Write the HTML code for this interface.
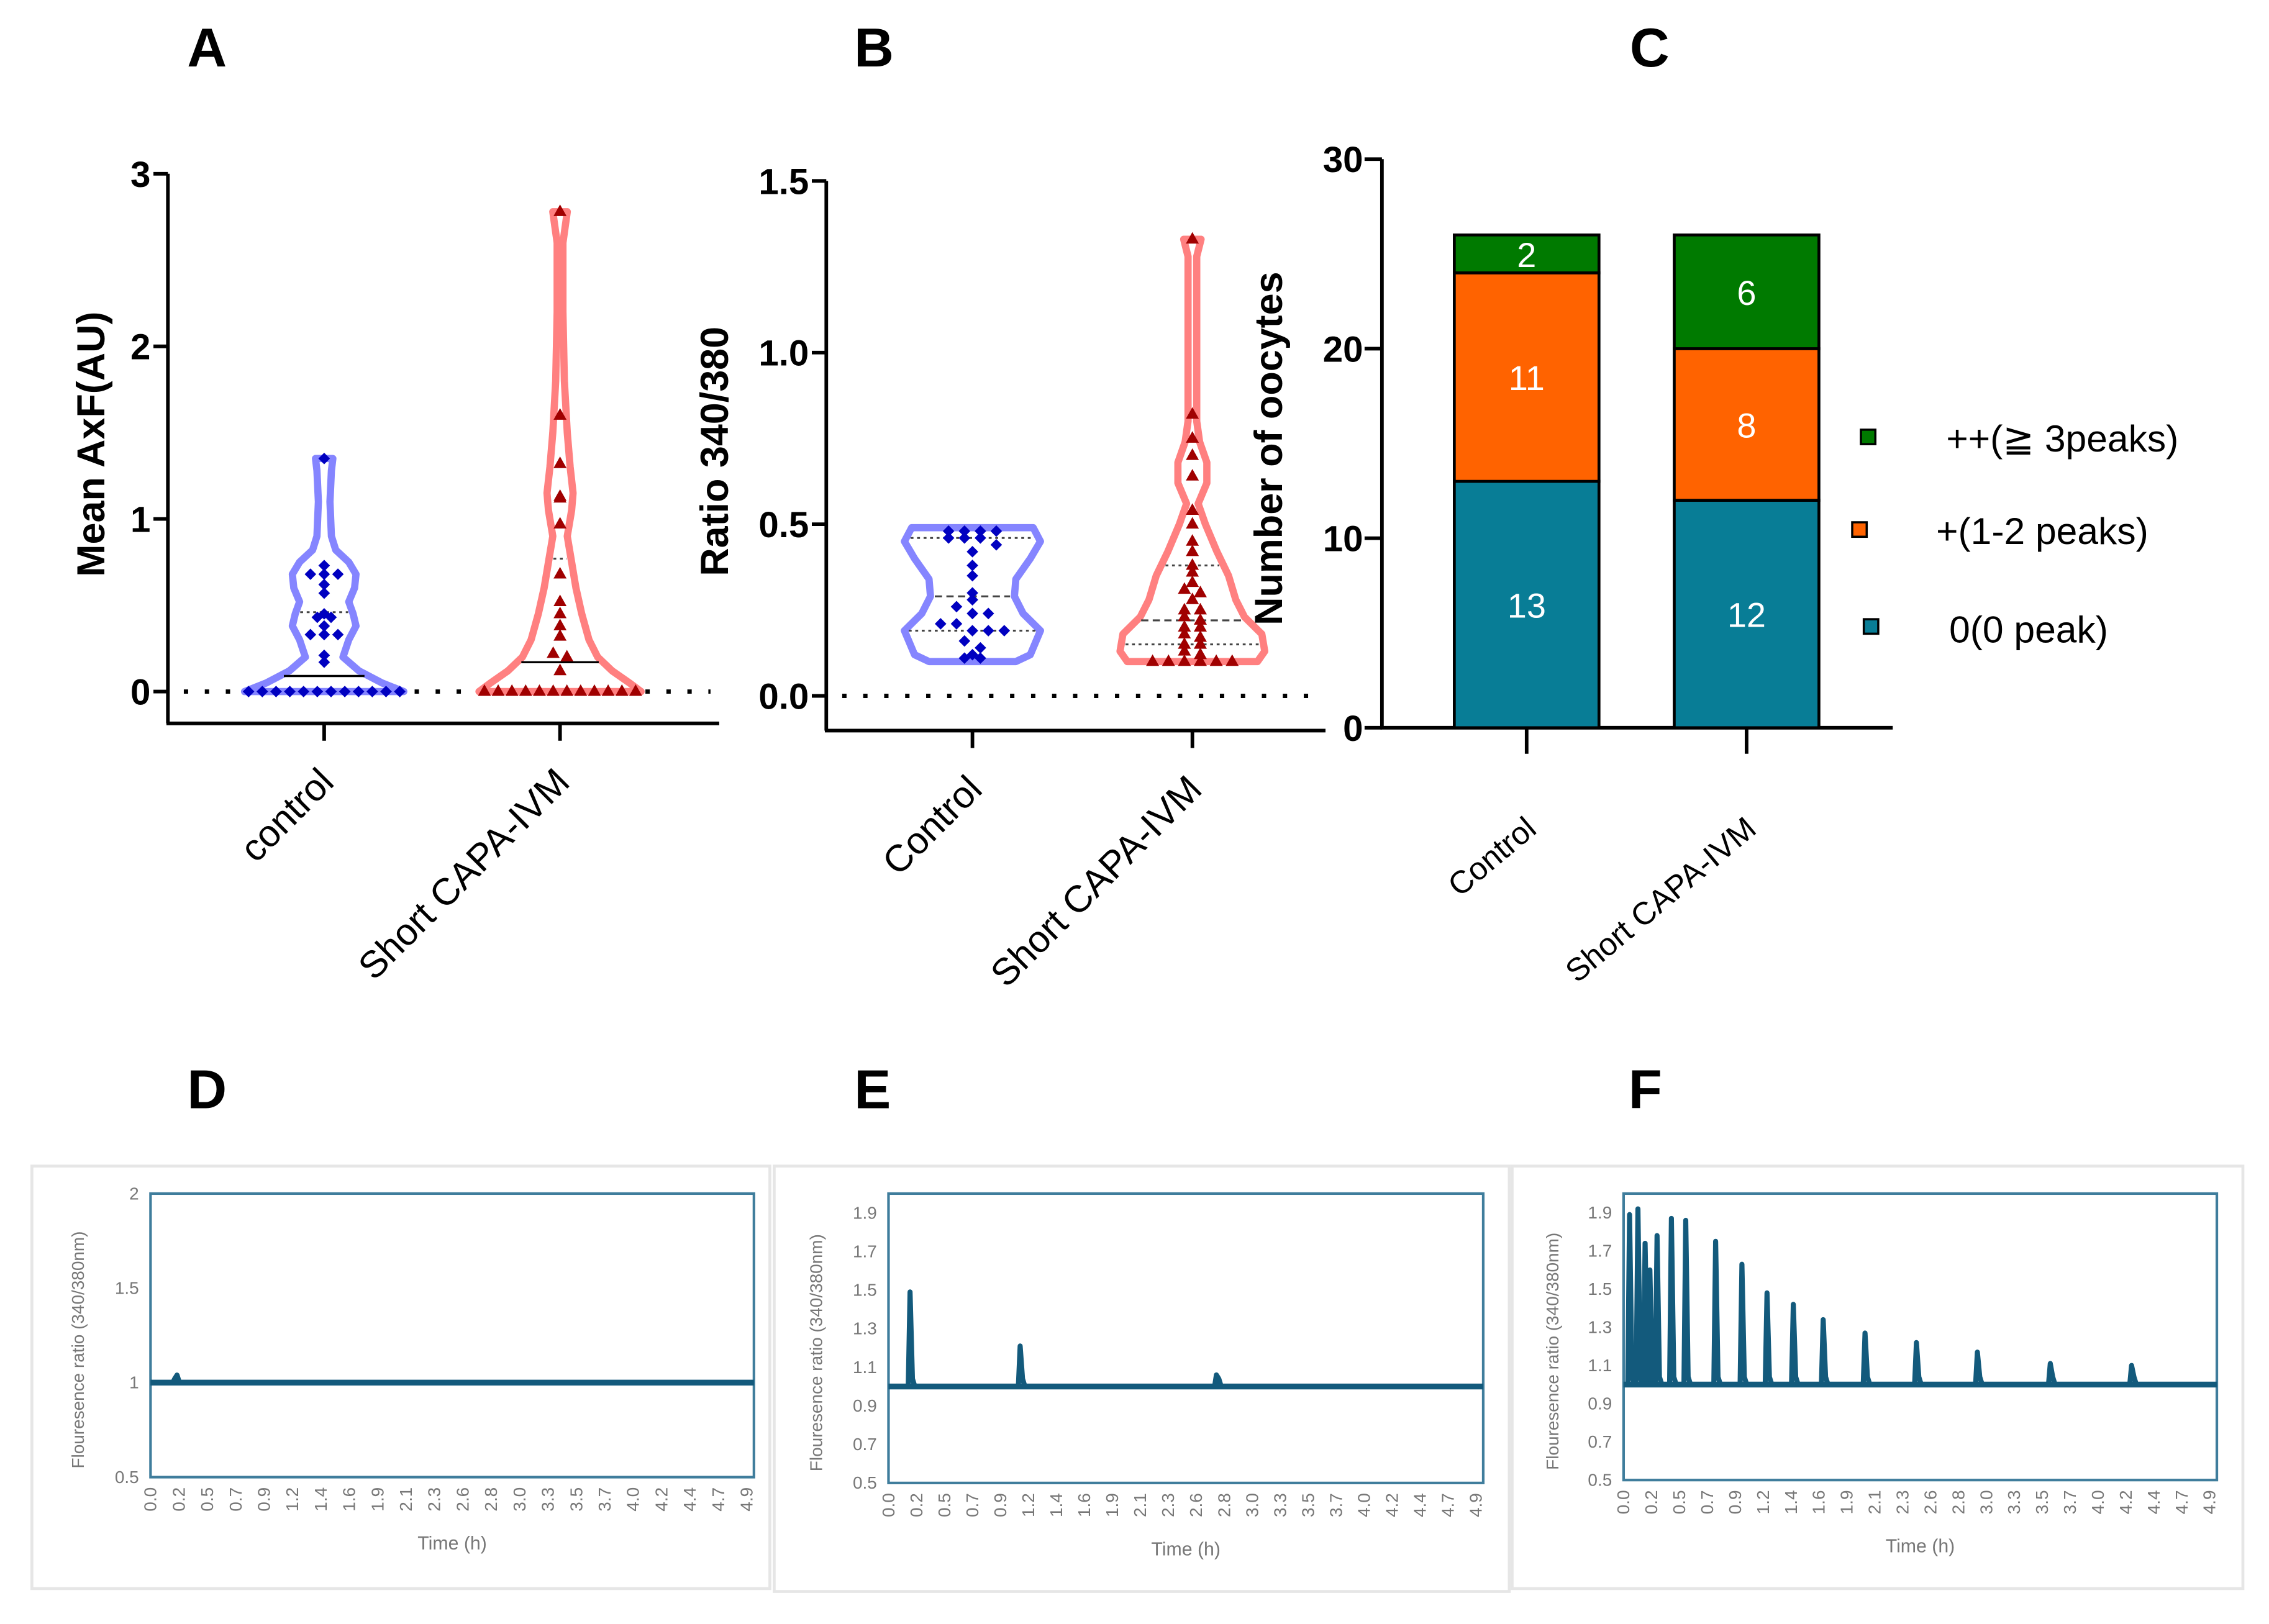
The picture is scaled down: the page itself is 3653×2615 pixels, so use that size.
<!DOCTYPE html>
<html><head><meta charset="utf-8"><style>
html,body{margin:0;padding:0;background:#fff;}
svg{display:block;font-family:"Liberation Sans",sans-serif;}
</style></head><body>
<svg id="fig" width="3653" height="2615" viewBox="0 0 1568 1122.5" xmlns="http://www.w3.org/2000/svg">
<rect x="0" y="0" width="1568" height="1122.5" fill="#fff"/>
</svg>
<script>
// ---------- DATA ----------
const panelLetters = ["A","B","C","D","E","F"];
// Panel A (Mean AxF)
const aTicks = [0,1,2,3];
const aControl = [1.35,0.73,0.68,0.68,0.68,0.62,0.57,0.45,0.43,0.43,0.38,0.33,0.33,0.33,0.21,0.17,0,0,0,0,0,0,0,0,0,0,0,0];
const aShort = [2.78,1.6,1.32,1.13,1.12,0.97,0.68,0.52,0.45,0.38,0.32,0.22,0.2,0.12,0,0,0,0,0,0,0,0,0,0,0,0];
const aControlLines = {median:0.09, q3:0.46};
const aShortLines = {median:0.17, q3:0.77};
const aControlShape = [[0,55],[0.05,40],[0.12,24],[0.2,13],[0.3,17],[0.38,22],[0.45,20],[0.52,17],[0.6,21],[0.68,22],[0.75,17],[0.82,8],[0.9,5],[1.1,4],[1.28,5],[1.35,6]];
const aShortShape = [[0,56],[0.05,48],[0.12,36],[0.2,26],[0.3,20],[0.45,15],[0.6,11],[0.75,8],[0.9,5],[1.05,8],[1.15,9],[1.3,7],[1.5,5],[1.8,3],[2.2,2],[2.6,2],[2.78,5]];
// Panel B (Ratio)
const bTicks = [0,0.5,1.0,1.5];
const bControl = [0.48,0.48,0.48,0.48,0.46,0.46,0.46,0.44,0.42,0.38,0.35,0.3,0.28,0.26,0.24,0.24,0.21,0.21,0.19,0.19,0.19,0.16,0.14,0.12,0.11,0.11];
const bShort = [1.33,0.82,0.75,0.7,0.64,0.54,0.5,0.45,0.42,0.38,0.36,0.33,0.31,0.3,0.28,0.25,0.25,0.23,0.22,0.2,0.2,0.18,0.17,0.15,0.15,0.13,0.12,0.1,0.1,0.1,0.1,0.1,0.1];
const bControlLines = {q1:0.19, median:0.29, q3:0.46};
const bShortLines = {q1:0.15, median:0.22, q3:0.38};
const bControlShape = [[0.1,30],[0.12,40],[0.19,47],[0.24,35],[0.29,29],[0.34,30],[0.4,40],[0.45,47],[0.49,42]];
const bShortShape = [[0.1,45],[0.13,50],[0.18,48],[0.23,36],[0.28,30],[0.35,25],[0.42,17],[0.5,9],[0.56,4],[0.62,10],[0.68,10],[0.74,5],[0.8,3],[0.9,3],[1.1,3],[1.28,3],[1.33,6]];
// Panel C (stacked bars)
const cCategories = ["Control","Short CAPA-IVM"];
const cZero = [13,12];
const cPlus = [11,8];
const cPlusPlus = [2,6];
const cTicks = [0,10,20,30];
const cLegend = ["++(\u2267 3peaks)","+(1-2 peaks)","0(0 peak)"];
// Panels D-F (traces)
const timeTicks = ["0.0","0.2","0.5","0.7","0.9","1.2","1.4","1.6","1.9","2.1","2.3","2.6","2.8","3.0","3.3","3.5","3.7","4.0","4.2","4.4","4.7","4.9"];
const dYTicks = [0.5,1,1.5,2];
const efYTicks = [0.5,0.7,0.9,1.1,1.3,1.5,1.7,1.9];
const dPeakTimes = [0.2];
const dPeakHeights = [1.02];
const ePeakTimes = [0.18,1.1,2.74];
const ePeakHeights = [1.49,1.21,1.06];
const fPeakTimes = [0.05,0.12,0.18,0.22,0.28,0.4,0.52,0.77,0.99,1.2,1.42,1.67,2.02,2.45,2.96,3.57,4.25];
const fPeakHeights = [1.89,1.92,1.74,1.6,1.78,1.87,1.86,1.75,1.63,1.48,1.42,1.34,1.27,1.22,1.17,1.11,1.1];

// ---------- HELPERS ----------
const svg = document.getElementById('fig');
const NS = "http://www.w3.org/2000/svg";
function mk(tag, attrs, parent){
  const e = document.createElementNS(NS, tag);
  for (const k in attrs) e.setAttribute(k, attrs[k]);
  (parent||svg).appendChild(e);
  return e;
}
function txt(s, attrs, parent){ const e = mk('text', attrs, parent); e.textContent = s; return e; }

// ---------- LETTERS ----------
const letterPos = [[143,32],[604,32],[1140,32],[143,752],[603,752],[1137,752]];
panelLetters.forEach((L,i)=>{
  const t = txt(L,{x:letterPos[i][0],y:letterPos[i][1]+14,'font-size':38,'font-weight':'bold','text-anchor':'middle'});
  
  
});

// ---------- VIOLIN PANELS ----------
function violinPanel(cfg){
  const g = mk('g',{});
  
  
  const y = v => cfg.y0 - (v - cfg.vmin) * cfg.scale;
  const ya = mk('line',{x1:cfg.ax,y1:y(cfg.vmax),x2:cfg.ax,y2:cfg.axisY,stroke:'#000','stroke-width':2.5},g);
   
  const xa = mk('line',{x1:cfg.ax-1,y1:cfg.axisY,x2:cfg.axEnd,y2:cfg.axisY,stroke:'#000','stroke-width':2.5},g);
   
  cfg.ticks.forEach(v=>{
    mk('line',{x1:cfg.ax-10,y1:y(v),x2:cfg.ax,y2:y(v),stroke:'#000','stroke-width':2.5},g);
    const t = txt(cfg.fmt(v),{x:cfg.ax-12,y:y(v)+9,'font-size':25,'font-weight':'bold','text-anchor':'end'},g);
     
  });
  const yl = txt(cfg.ylabel,{x:0,y:0,'font-size':27,'font-weight':'bold','text-anchor':'middle',transform:`translate(${cfg.ylx},${cfg.yly}) rotate(-90)`},g);
   
  const zl = mk('line',{x1:cfg.dotFrom,y1:y(0),x2:cfg.axEnd-6,y2:y(0),stroke:'#000','stroke-width':3,'stroke-dasharray':'3 11.5'},g);
   
  cfg.groups.forEach((grp,gi)=>{
    const cx = grp.cx;
    mk('line',{x1:cx,y1:cfg.axisY,x2:cx,y2:cfg.axisY+12,stroke:'#000','stroke-width':2.5},g);
    const cl = txt(grp.label,{x:0,y:0,'font-size':26,'text-anchor':'end',transform:`translate(${cx+8},${cfg.axisY+42}) rotate(-45)`},g);
     
    const sh = grp.shape;
    let d = '';
    sh.forEach((p,i)=>{ d += (i?'L':'M') + (cx+p[1]) + ' ' + y(p[0]) + ' '; });
    for (let i=sh.length-1;i>=0;i--) d += 'L' + (cx-sh[i][1]) + ' ' + y(sh[i][0]) + ' ';
    d += 'Z';
    const vp = mk('path',{d:d,fill:'#fff',stroke:grp.stroke,'stroke-width':5,'stroke-linejoin':'round'},g);
     
    const halfAt = v => { for (let i=1;i<sh.length;i++){ if (v<=sh[i][0]){ const a=sh[i-1],b=sh[i]; return a[1]+(b[1]-a[1])*(v-a[0])/(b[0]-a[0]); } } return sh[sh.length-1][1]; };
    Object.keys(grp.lines).forEach(k=>{
      const v = grp.lines[k], w = halfAt(v)-3;
      const style = k==='median' ? (cfg.medianSolid ? {} : {'stroke-dasharray':'5 3'}) : {'stroke-dasharray':'2 2.5'};
      const ln = mk('line',Object.assign({x1:cx-w,y1:y(v),x2:cx+w,y2:y(v),stroke:k==='median'&&cfg.medianSolid?'#000':'#444','stroke-width':k==='median'&&cfg.medianSolid?1.5:1.3},style),g);
       
    });
    const bins = {};
    grp.values.forEach(v=>{ const k = Math.round(v/cfg.bin); (bins[k]=bins[k]||[]).push(v); });
    Object.keys(bins).forEach(k=>{
      const arr = bins[k];
      arr.forEach((v,i)=>{
        const off = (i - (arr.length-1)/2) * cfg.spacing;
        const px = cx+off, py = y(v);
        let m;
        if (grp.marker==='diamond'){
          m = mk('path',{d:`M${px} ${py-4} L${px+4} ${py} L${px} ${py+4} L${px-4} ${py} Z`,fill:'#0000c0'},g);
        } else {
          m = mk('path',{d:`M${px} ${py-5} L${px+4.5} ${py+3} L${px-4.5} ${py+3} Z`,fill:'#a00000'},g);
        }
        
        
      });
    });
  });
}
violinPanel({name:'panel-a-violin-chart',ax:116,axEnd:497,axisY:500,y0:478,vmin:0,vmax:3,scale:119.3,ticks:aTicks,fmt:v=>String(v),
  ylabel:'Mean AxF(AU)',ylx:72,yly:307,dotFrom:127,bin:0.03,spacing:9.5,medianSolid:true,
  groups:[{key:'control',label:'control',cx:224,shape:aControlShape,values:aControl,lines:aControlLines,stroke:'#8585ff',marker:'diamond'},
          {key:'short-capa-ivm',label:'Short CAPA-IVM',cx:387,shape:aShortShape,values:aShort,lines:aShortLines,stroke:'#ff8080',marker:'tri'}]});
violinPanel({name:'panel-b-violin-chart',ax:571,axEnd:916,axisY:505,y0:481,vmin:0,vmax:1.5,scale:237.3,ticks:bTicks,fmt:v=>v.toFixed(1),
  ylabel:'Ratio 340/380',ylx:503,yly:312,dotFrom:582,bin:0.025,spacing:11,medianSolid:false,
  groups:[{key:'control',label:'Control',cx:672,shape:bControlShape,values:bControl,lines:bControlLines,stroke:'#8585ff',marker:'diamond'},
          {key:'short-capa-ivm',label:'Short CAPA-IVM',cx:824,shape:bShortShape,values:bShort,lines:bShortLines,stroke:'#ff8080',marker:'tri'}]});

// ---------- PANEL C ----------
(function(){
  const g = mk('g',{});
  
  
  const ax=955, axisY=503, scale=(503-110)/30;
  const y = v => axisY - v*scale;
  const ya = mk('line',{x1:ax,y1:y(30),x2:ax,y2:axisY,stroke:'#000','stroke-width':2.5},g);
   
  const xa = mk('line',{x1:ax-1,y1:axisY,x2:1308,y2:axisY,stroke:'#000','stroke-width':2.5},g);
   
  cTicks.forEach(v=>{
    mk('line',{x1:ax-12,y1:y(v),x2:ax,y2:y(v),stroke:'#000','stroke-width':2.5},g);
    const t = txt(String(v),{x:ax-13,y:y(v)+9,'font-size':25,'font-weight':'bold','text-anchor':'end'},g);
     
  });
  const yl = txt('Number of oocytes',{x:0,y:0,'font-size':27,'font-weight':'bold','text-anchor':'middle',transform:'translate(886,310) rotate(-90)'},g);
   
  const centers=[1055,1207], bw=100;
  const colors=['#087d96','#ff6300','#007a00'];
  const series=[cZero,cPlus,cPlusPlus];
  const segNames=['zero-peak','one-two-peaks','three-plus-peaks'];
  cCategories.forEach((c,i)=>{
    let base=0;
    series.forEach((s,si)=>{
      const v=s[i];
      const r = mk('rect',{x:centers[i]-bw/2,y:y(base+v),width:bw,height:v*scale,fill:colors[si],stroke:'#000','stroke-width':2},g);
      
      
      const t = txt(String(v),{x:centers[i],y:y(base+v/2)+9,'font-size':24,fill:'#fff','text-anchor':'middle'},g);
       
      base+=v;
    });
    mk('line',{x1:centers[i],y1:axisY,x2:centers[i],y2:axisY+18,stroke:'#000','stroke-width':2.5},g);
    const cl = txt(c,{x:0,y:0,'font-size':22,'text-anchor':'end',transform:`translate(${centers[i]+8},${axisY+72}) rotate(-40)`},g);
     
  });
  const legSq=[[1291,302],[1285,366],[1293,433]], legTx=[[1345,312],[1338,376],[1347,444]];
  const legCol=[colors[2],colors[1],colors[0]];
  cLegend.forEach((L,i)=>{
    const s = mk('rect',{x:legSq[i][0]-5,y:legSq[i][1]-5,width:10,height:10,fill:legCol[i],stroke:'#000','stroke-width':1.5},g);
     
    const t = txt(L,{x:legTx[i][0],y:legTx[i][1],'font-size':26},g);
     
  });
})();

// ---------- TRACE PANELS ----------
function tracePanel(cfg){
  const g = mk('g',{});
  
  
  const fr = mk('rect',{x:cfg.fx,y:cfg.fy,width:cfg.fw,height:cfg.fh,fill:'#fff',stroke:'#e6e6e6','stroke-width':2},g);
   
  const x = t => cfg.px0 + t*cfg.hr;
  const y = v => cfg.py1 - (v - cfg.vmin)/(cfg.vmax-cfg.vmin)*(cfg.py1-cfg.py0);
  const pa = mk('rect',{x:cfg.px0,y:cfg.py0,width:cfg.px1-cfg.px0,height:cfg.py1-cfg.py0,fill:'none',stroke:'#3f7d9c','stroke-width':1.8},g);
   
  cfg.yticks.forEach(v=>{
    const t = txt(String(v),{x:cfg.px0-8,y:y(v)+4,'font-size':12,fill:'#777','text-anchor':'end'},g);
     
  });
  timeTicks.forEach((s,i)=>{
    const tx = cfg.px0 + i*(cfg.px1-cfg.px0-5)/(timeTicks.length-1);
    const t = txt(s,{x:0,y:0,'font-size':12,fill:'#777','text-anchor':'end',transform:`translate(${tx+4},${cfg.py1+7}) rotate(-90)`},g);
     
  });
  const xt = txt('Time (h)',{x:(cfg.px0+cfg.px1)/2,y:cfg.py1+50,'font-size':13,fill:'#777','text-anchor':'middle'},g);
   
  const yt = txt('Flouresence ratio (340/380nm)',{x:0,y:0,'font-size':12,fill:'#777','text-anchor':'middle',transform:`translate(${cfg.ylx},${(cfg.py0+cfg.py1)/2+10}) rotate(-90)`},g);
   
  const tEnd = (cfg.px1-cfg.px0)/cfg.hr;
  let d = `M${x(0)} ${y(1.0)} `;
  cfg.times.forEach((t,i)=>{
    d += `L${x(t-0.015)} ${y(1.0)} L${x(t)} ${y(cfg.heights[i])} L${x(t+0.02)} ${y(1.04)} L${x(t+0.04)} ${y(1.0)} `;
  });
  d += `L${x(tEnd)} ${y(1.0)}`;
  const tr = mk('path',{d:d,fill:'none',stroke:'#135a7c','stroke-width':3.5,'stroke-linejoin':'round'},g);
   
  const band = mk('line',{x1:x(0),y1:y(1.0),x2:x(tEnd),y2:y(1.0),stroke:'#135a7c','stroke-width':4},g);
   
}
tracePanel({name:'panel-d-trace',fx:22,fy:806,fw:510,fh:292,px0:104,px1:521,py0:825,py1:1021,vmin:0.5,vmax:2,hr:83.2,yticks:dYTicks,ylx:58,times:dPeakTimes,heights:dPeakHeights});
tracePanel({name:'panel-e-trace',fx:535,fy:806,fw:508,fh:294,px0:614,px1:1025,py0:825,py1:1025,vmin:0.5,vmax:2.0,hr:82.7,yticks:efYTicks,ylx:568,times:ePeakTimes,heights:ePeakHeights});
tracePanel({name:'panel-f-trace',fx:1045,fy:806,fw:505,fh:292,px0:1122,px1:1532,py0:825,py1:1023,vmin:0.5,vmax:2.0,hr:82.6,yticks:efYTicks,ylx:1077,times:fPeakTimes,heights:fPeakHeights});
</script>
</body></html>
